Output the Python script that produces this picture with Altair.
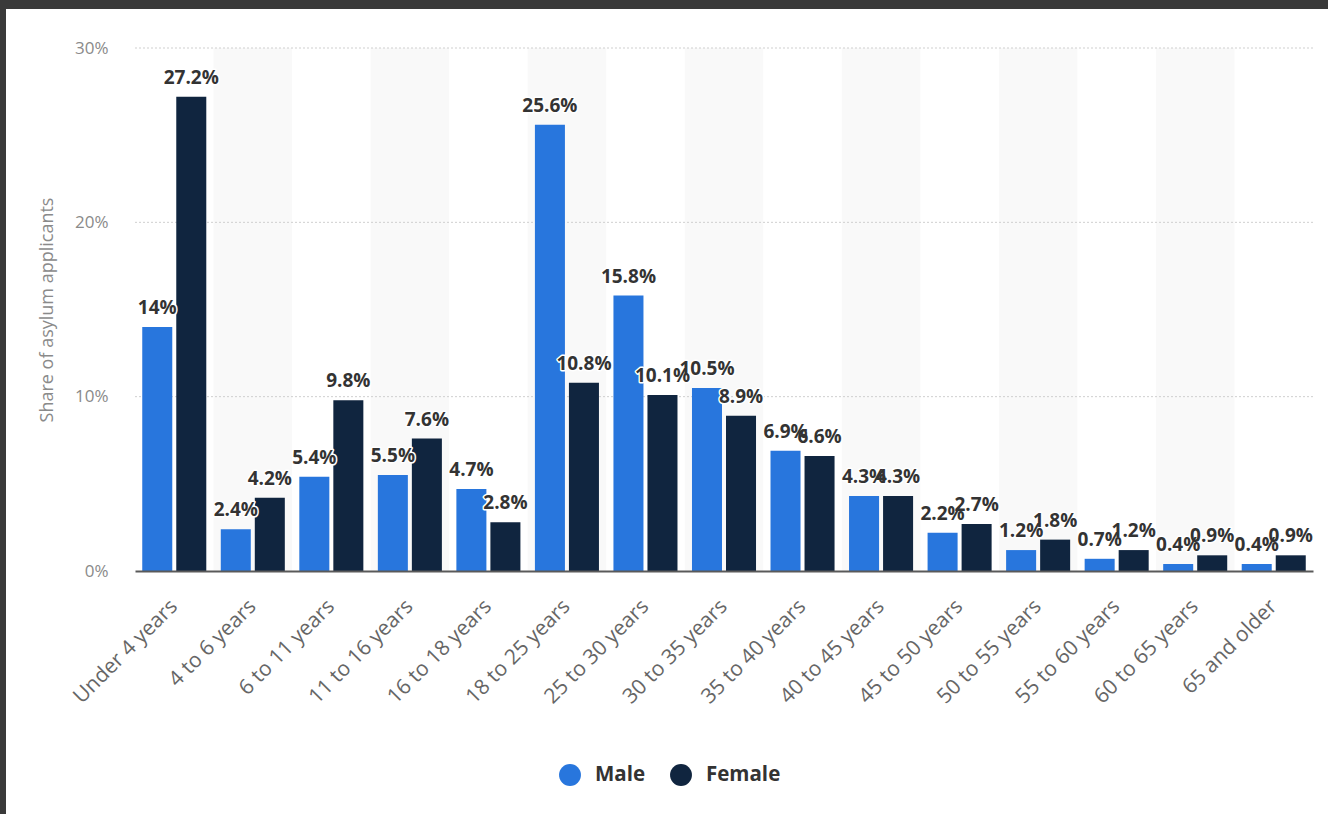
import altair as alt
import pandas as pd

categories = ["Under 4 years", "4 to 6 years", "6 to 11 years", "11 to 16 years",
              "16 to 18 years", "18 to 25 years", "25 to 30 years", "30 to 35 years",
              "35 to 40 years", "40 to 45 years", "45 to 50 years", "50 to 55 years",
              "55 to 60 years", "60 to 65 years", "65 and older"]
male = [14, 2.4, 5.4, 5.5, 4.7, 25.6, 15.8, 10.5, 6.9, 4.3, 2.2, 1.2, 0.7, 0.4, 0.4]
female = [27.2, 4.2, 9.8, 7.6, 2.8, 10.8, 10.1, 8.9, 6.6, 4.3, 2.7, 1.8, 1.2, 0.9, 0.9]
series = ["Male", "Female"]
colors = ["#2876dd", "#10253f"]
y_ticks = [0, 10, 20, 30]
grid_ticks = [10, 20, 30]

rows = []
for c, m, f in zip(categories, male, female):
    rows.append({"category": c, "sex": "Male", "value": m, "label": f"{m:g}%"})
    rows.append({"category": c, "sex": "Female", "value": f, "label": f"{f:g}%"})
df = pd.DataFrame(rows)

shade_df = pd.DataFrame({"category": categories[1::2]})
grid_df = pd.DataFrame({"v": grid_ticks})
frame_df = pd.DataFrame({"a": [0]})

W, H = 1178, 523
FONT = "Open Sans"

xscale = alt.Scale(domain=categories, paddingInner=0, paddingOuter=0)
yscale = alt.Scale(domain=[0, 30])

frame = alt.Chart(frame_df).mark_rect(color="white").encode(
    x=alt.value(-129), x2=alt.value(1193), y=alt.value(-39), y2=alt.value(766)
)

shade = alt.Chart(shade_df).mark_rect(color="#f9f9f9").encode(
    x=alt.X("category:N", scale=xscale, sort=categories),
    y=alt.value(0), y2=alt.value(H),
)

grid = alt.Chart(grid_df).mark_rule(color="#cfcfcf", strokeDash=[2, 2], strokeWidth=1).encode(
    y=alt.Y("v:Q", scale=yscale), x=alt.value(0), x2=alt.value(W)
)

base = alt.Chart(df)
xenc = alt.X("category:N", scale=xscale, sort=categories,
             axis=alt.Axis(title=None, labelAngle=-45, labelFontSize=21, labelColor="#666666",
                           labelFont=FONT, labelPadding=32, ticks=False, domain=True,
                           domainColor="#5a5a5a", domainWidth=2, zindex=1, labelLimit=300))
xoff = alt.XOffset("sex:N", sort=series,
                   scale=alt.Scale(domain=series, paddingInner=0.1176, paddingOuter=0.213))

bars = base.mark_bar().encode(
    x=xenc,
    xOffset=xoff,
    y=alt.Y("value:Q", scale=yscale,
            axis=alt.Axis(values=y_ticks, labelExpr="datum.value + '%'", grid=False,
                          domain=False, ticks=False, labelFontSize=17, labelColor="#8a8a8a",
                          labelFont=FONT, labelPadding=27, title="Share of asylum applicants",
                          titleFont=FONT, titleFontSize=18, titleFontWeight="normal",
                          titleColor="#8a8a8a", titleX=-88, titleY=H / 2,
                          titleBaseline="middle", zindex=1)),
    color=alt.Color("sex:N", sort=series, scale=alt.Scale(domain=series, range=colors),
                    legend=alt.Legend(title=None, orient="none", direction="horizontal",
                                      legendX=424, legendY=716, symbolType="circle",
                                      symbolSize=480, symbolStrokeWidth=0, symbolOpacity=1,
                                      labelFontSize=20.5, labelFontWeight="bold",
                                      labelColor="#333333", labelFont=FONT,
                                      labelOffset=14, columnPadding=24, padding=0)),
)

halo = base.mark_text(fontSize=19, fontWeight="bold", font=FONT, baseline="alphabetic",
                      dy=-13, stroke="white", strokeWidth=3, strokeJoin="round",
                      color="white").encode(
    x=alt.X("category:N", scale=xscale, sort=categories),
    xOffset=xoff,
    y=alt.Y("value:Q", scale=yscale),
    text="label:N",
)
labels = base.mark_text(fontSize=19, fontWeight="bold", font=FONT, baseline="alphabetic",
                        dy=-13, color="#333333").encode(
    x=alt.X("category:N", scale=xscale, sort=categories),
    xOffset=xoff,
    y=alt.Y("value:Q", scale=yscale),
    text="label:N",
)

chart = alt.layer(frame, shade, grid, bars, halo, labels).properties(
    width=W, height=H,
    background="#3a3a3a",
    padding={"left": 135, "top": 48, "right": 15, "bottom": 243},
    autosize=alt.AutoSizeParams(type="none"),
).configure_view(stroke=None)

chart.save("out.html", embed_options={"renderer": "svg", "actions": False})
